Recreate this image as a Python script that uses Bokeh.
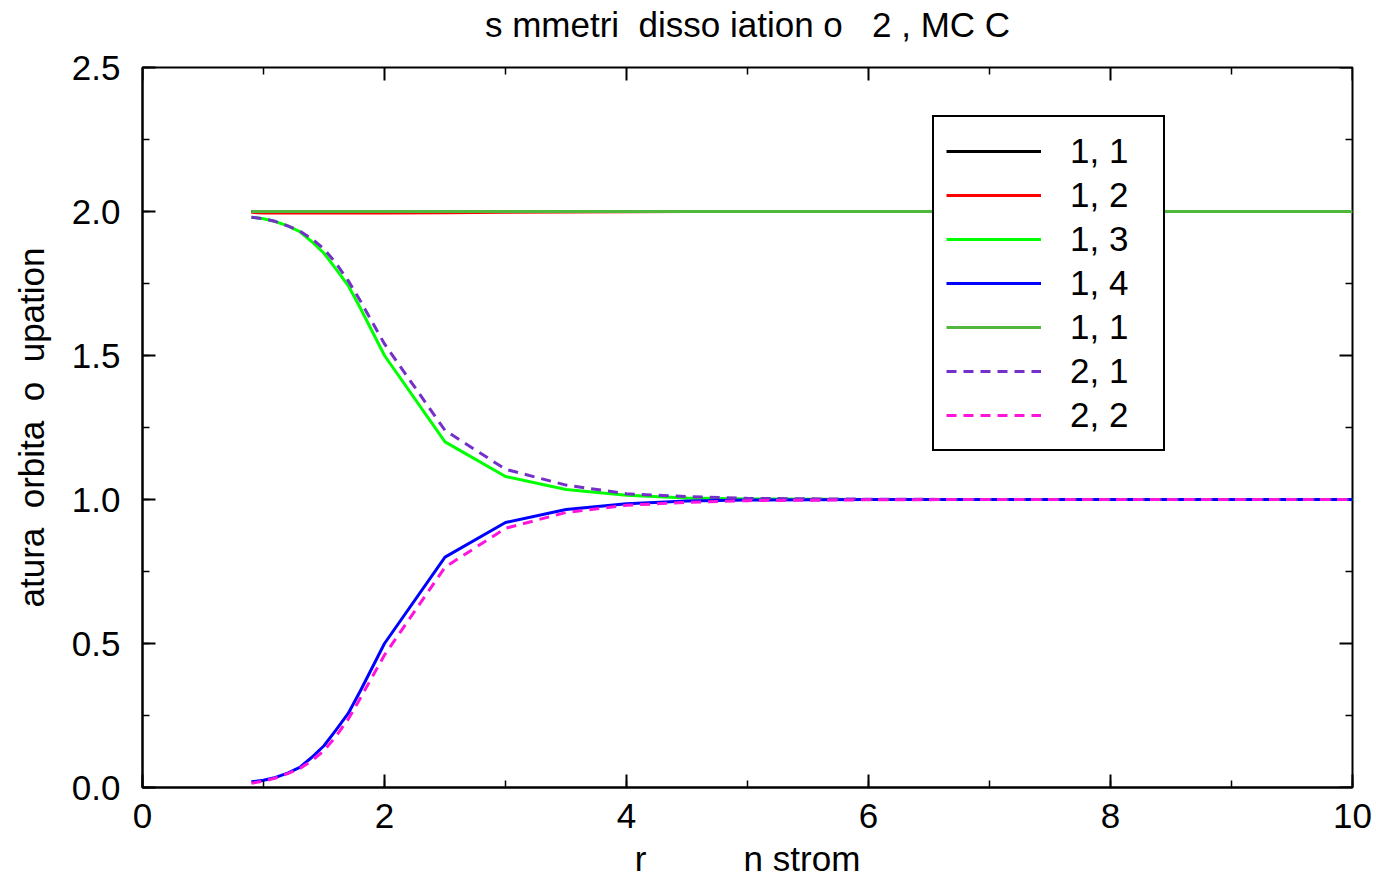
import math
from bokeh.plotting import figure
from bokeh.models import (Range1d, SingleIntervalTicker, NumeralTickFormatter, FixedTicker,
                          LinearAxis, Legend, LegendItem)
from bokeh.embed import file_html
from bokeh.resources import INLINE

# ---- data ----
r = [0.9, 1.0, 1.1, 1.2, 1.3, 1.4, 1.5, 1.6, 1.7, 1.8, 2.0, 2.5, 3.0, 3.5, 4.0, 4.5, 5.0,
     6.0, 7.0, 8.0, 9.0, 10.0]
n11 = [2.0] * 22
n12 = [1.997, 1.995, 1.995, 1.995, 1.995, 1.995, 1.995, 1.995, 1.995, 1.995, 1.995, 1.996,
       1.997, 1.998, 1.999, 2.0, 2.0, 2.0, 2.0, 2.0, 2.0, 2.0]
n13 = [1.98, 1.975, 1.965, 1.95, 1.93, 1.895, 1.855, 1.80, 1.743, 1.665, 1.50, 1.20, 1.08,
       1.035, 1.015, 1.005, 1.002, 1.0, 1.0, 1.0, 1.0, 1.0]
n14 = [0.02, 0.025, 0.035, 0.05, 0.07, 0.105, 0.145, 0.20, 0.257, 0.335, 0.50, 0.80, 0.92,
       0.965, 0.985, 0.995, 0.998, 1.0, 1.0, 1.0, 1.0, 1.0]
n11b = [2.0] * 22
n21 = [1.98, 1.975, 1.965, 1.95, 1.932, 1.905, 1.87, 1.82, 1.76, 1.69, 1.54, 1.24, 1.105,
       1.05, 1.02, 1.01, 1.004, 1.001, 1.0, 1.0, 1.0, 1.0]
n22 = [0.015, 0.022, 0.033, 0.048, 0.066, 0.093, 0.128, 0.178, 0.237, 0.31, 0.46, 0.765, 0.90,
       0.955, 0.98, 0.99, 0.996, 0.999, 1.0, 1.0, 1.0, 1.0]

labels = ["1, 1", "1, 2", "1, 3", "1, 4", "1, 1", "2, 1", "2, 2"]
series = [n11, n12, n13, n14, n11b, n21, n22]
colors = ["#000000", "#ff0000", "#00ff00", "#0000ff", "#50b83c", "#7430c8", "#ff14dc"]
dashes = ["solid", "solid", "solid", "solid", "solid", "10 7", "10 7"]

x_major = [0, 2, 4, 6, 8, 10]
x_minor = [1, 3, 5, 7, 9]
y_major = [0.0, 0.5, 1.0, 1.5, 2.0, 2.5]
y_minor = [0.25, 0.75, 1.25, 1.75, 2.25]
x_lim = (0, 10)
y_lim = (0, 2.5)

title_text = "s mmetri  disso iation o   2 , MC C"
xlabel = "r          n strom"
ylabel = "atura  orbita  o  upation"

def keep_spaces(s):
    return s.replace(" ", "\u00a0")

FONT = "Liberation Sans"
FS = "35px"

p = figure(width=1376, height=880, output_backend="svg", toolbar_location=None,
           x_range=Range1d(*x_lim), y_range=Range1d(*y_lim),
           min_border_left=142, min_border_right=24, min_border_top=67, min_border_bottom=93)

p.grid.visible = False
p.outline_line_color = "black"
p.outline_line_width = 2
p.outline_line_alpha = 1

def style_axis(ax):
    ax.axis_line_color = "black"
    ax.axis_line_width = 2
    ax.major_tick_in = 13
    ax.major_tick_out = 0
    ax.minor_tick_in = 7
    ax.minor_tick_out = 0
    ax.major_tick_line_width = 2
    ax.minor_tick_line_width = 1.5
    ax.major_tick_line_color = "black"
    ax.minor_tick_line_color = "black"
    ax.major_label_text_font = FONT
    ax.major_label_text_font_size = FS
    ax.major_label_text_color = "black"
    ax.axis_label_text_font = FONT
    ax.axis_label_text_font_size = FS
    ax.axis_label_text_font_style = "normal"
    ax.axis_label_text_color = "black"

p.xaxis.ticker = SingleIntervalTicker(interval=2, num_minor_ticks=2)
p.yaxis.ticker = SingleIntervalTicker(interval=0.5, num_minor_ticks=2)
p.yaxis.formatter = NumeralTickFormatter(format="0.0")
p.xaxis.formatter = NumeralTickFormatter(format="0")
style_axis(p.xaxis[0])
style_axis(p.yaxis[0])
p.xaxis.axis_label = keep_spaces(xlabel)
p.yaxis.axis_label = keep_spaces(ylabel)
p.xaxis.major_label_standoff = 16
p.yaxis.major_label_standoff = 22
p.xaxis.axis_label_standoff = 8
p.yaxis.axis_label_standoff = 18

# title: drawn as the label of a tick-less axis above the frame
title_axis = LinearAxis(ticker=FixedTicker(ticks=[]), axis_label=keep_spaces(title_text))
title_axis.axis_line_color = None
title_axis.major_tick_out = 0
title_axis.major_tick_in = 0
title_axis.minor_tick_out = 0
title_axis.minor_tick_in = 0
title_axis.major_label_standoff = 0
title_axis.axis_label_standoff = 24
title_axis.axis_label_text_font = FONT
title_axis.axis_label_text_font_size = FS
title_axis.axis_label_text_font_style = "normal"
title_axis.axis_label_text_color = "black"
p.add_layout(title_axis, "above")

# mirrored ticks on the top and right edges of the frame
p.ray(x=x_major, y=[y_lim[1]] * len(x_major), length=13, length_units="screen",
      angle=-math.pi / 2, line_color="black", line_width=2)
p.ray(x=x_minor, y=[y_lim[1]] * len(x_minor), length=7, length_units="screen",
      angle=-math.pi / 2, line_color="black", line_width=1.5)
p.ray(x=[x_lim[1]] * len(y_major), y=y_major, length=13, length_units="screen",
      angle=math.pi, line_color="black", line_width=2)
p.ray(x=[x_lim[1]] * len(y_minor), y=y_minor, length=7, length_units="screen",
      angle=math.pi, line_color="black", line_width=1.5)

items = []
for lab, ys, c, d in zip(labels, series, colors, dashes):
    gl = p.line(r, ys, line_color=c, line_width=3, line_dash=d)
    items.append(LegendItem(label=lab, renderers=[gl]))

leg = Legend(items=items, location=(790, 336))
leg.label_text_font = FONT
leg.label_text_font_size = FS
leg.label_text_color = "black"
leg.label_height = 44
leg.glyph_height = 44
leg.glyph_width = 95
leg.label_standoff = 29
leg.label_width = 81
leg.spacing = 0
leg.padding = 12
leg.margin = 0
leg.border_line_color = "black"
leg.border_line_width = 2
leg.border_line_alpha = 1
leg.background_fill_alpha = 1
p.add_layout(leg, "center")

open("out.html", "w").write(file_html(p, INLINE))
